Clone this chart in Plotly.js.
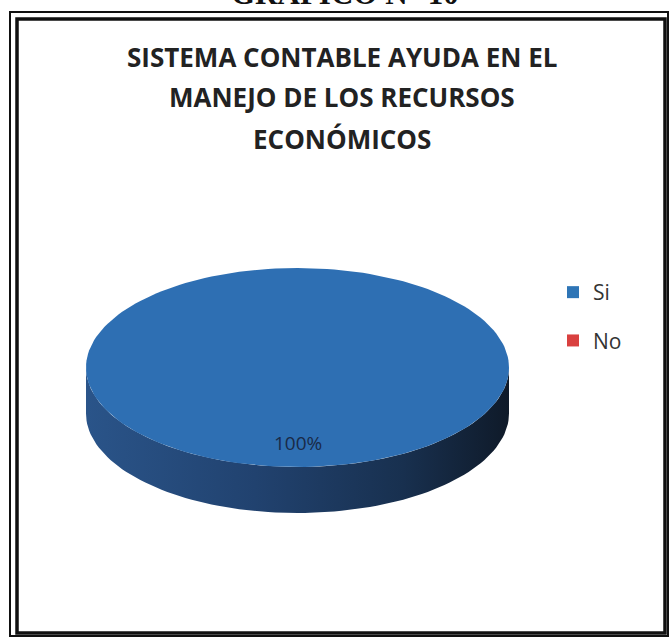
<!DOCTYPE html>
<html>
<head>
<meta charset="utf-8">
<script src="https://cdn.plot.ly/plotly-3.0.1.min.js"></script>
<style>
  html, body { margin: 0; padding: 0; background: #ffffff; }
  #chart { width: 672px; height: 638px; }
</style>
</head>
<body>
<div id="chart"></div>
<script>
// ---- data ----
const categories = ['Si', 'No'];
const percentages = [100, 0];
const sliceTopColors = ['#2e6fb3', '#c9393a'];
const legendColors = ['#2e75b6', '#d9403f'];
const titleLines = ['SISTEMA CONTABLE AYUDA EN EL', 'MANEJO DE LOS RECURSOS', 'ECONÓMICOS'];
const headerText = 'GRÁFICO N° 10';

// ---- layout / geometry (style, not data) ----
const W = 672, H = 638;
const CX = 297.5, CY = 367.5, RX = 211.5, RY = 99.5, DEPTH = 46;
const LABEL_R = 0.76;
const STEPS = 180;

function arc(t0, t1, dy) {
  const xs = [], ys = [];
  const n = Math.max(2, Math.ceil(STEPS * Math.abs(t1 - t0) / (2 * Math.PI)));
  for (let k = 0; k <= n; k++) {
    const t = t0 + (t1 - t0) * k / n;
    xs.push(CX + RX * Math.cos(t));
    ys.push(CY + RY * Math.sin(t) + dy);
  }
  return [xs, ys];
}

const total = percentages.reduce((a, b) => a + b, 0);
const wallTraces = [], topTraces = [], annotations = [];
let cum = 0;
categories.forEach((cat, i) => {
  const v = percentages[i];
  if (v <= 0) { cum += v; return; }
  const t0 = -Math.PI / 2 + 2 * Math.PI * cum / total;
  const t1 = t0 + 2 * Math.PI * v / total;
  cum += v;
  const full = v / total >= 0.99999;

  // top face
  const [ax, ay] = arc(t0, t1, 0);
  const tx = full ? ax.slice() : [CX].concat(ax, [CX]);
  const ty = full ? ay.slice() : [CY].concat(ay, [CY]);
  topTraces.push({
    type: 'scatter', mode: 'lines', x: tx, y: ty, fill: 'toself',
    fillcolor: sliceTopColors[i], line: { width: 0, color: sliceTopColors[i] },
    showlegend: false, hoverinfo: 'skip'
  });

  // visible front wall: angles in [0, PI] (mod 2PI)
  for (let k = -1; k <= 1; k++) {
    const lo = Math.max(t0, 2 * Math.PI * k), hi = Math.min(t1, 2 * Math.PI * k + Math.PI);
    if (hi > lo) {
      const [ux, uy] = arc(lo, hi, 0);
      const [bx, by] = arc(hi, lo, DEPTH);
      wallTraces.push({
        type: 'scatter', mode: 'lines',
        x: ux.concat(bx, [ux[0]]), y: uy.concat(by, [uy[0]]),
        fill: 'toself',
        fillgradient: { type: 'horizontal',
          colorscale: [[0, '#2a5489'], [0.4, '#21426f'], [0.75, '#18304f'], [1, '#0f1a29']] },
        line: { width: 0, color: '#1f3f66' },
        showlegend: false, hoverinfo: 'skip'
      });
    }
  }

  // percentage label
  const tm = (t0 + t1) / 2;
  annotations.push({
    xref: 'x', yref: 'y',
    x: CX + RX * LABEL_R * Math.cos(tm), y: CY + RY * LABEL_R * Math.sin(tm),
    text: Math.round(100 * v / total) + '%', showarrow: false,
    xanchor: 'center', yanchor: 'middle',
    font: { family: 'Open Sans', size: 19, color: '#1a2a47' }
  });
});

// legend entries
const legendTraces = categories.map((cat, i) => ({
  type: 'scatter', mode: 'markers', x: [null], y: [null], name: cat,
  legendgroup: 'g' + i,
  marker: { symbol: 'square', size: 12, color: legendColors[i] },
  hoverinfo: 'skip'
}));

// title lines
const titleCenters = [56.5, 96.5, 138.5];
titleLines.forEach((t, i) => {
  annotations.push({
    xref: 'x', yref: 'y', x: 342, y: titleCenters[i],
    text: '<b>' + t + '</b>', showarrow: false, xanchor: 'center', yanchor: 'middle',
    font: { family: 'Open Sans', size: 26, color: '#222222' }
  });
});

// header (cut off at top, as in the reference)
annotations.push({
  xref: 'x', yref: 'y', x: 345, y: 13, text: '<b>' + headerText + '</b>',
  showarrow: false, xanchor: 'center', yanchor: 'bottom',
  font: { family: 'Liberation Serif', size: 31, color: '#111111' }
});

const shapes = [
  { type: 'rect', xref: 'x', yref: 'y', x0: 10, y0: 12, x1: 668, y1: 636,
    line: { color: '#111111', width: 2 } },
  { type: 'rect', xref: 'x', yref: 'y', x0: 17, y0: 19, x1: 665, y1: 633,
    line: { color: '#111111', width: 3.5 } }
];

const layout = {
  width: W, height: H,
  margin: { l: 0, r: 0, t: 0, b: 0 },
  paper_bgcolor: '#ffffff', plot_bgcolor: '#ffffff',
  xaxis: { range: [0, W], visible: false, fixedrange: true },
  yaxis: { range: [H, 0], visible: false, fixedrange: true },
  showlegend: true,
  legend: {
    x: 553 / W, y: 1 - 272 / H, xanchor: 'left', yanchor: 'top',
    traceorder: 'grouped', tracegroupgap: 18,
    font: { family: 'Open Sans', size: 21, color: '#333333' },
    bgcolor: 'rgba(0,0,0,0)', itemwidth: 30
  },
  annotations: annotations,
  shapes: shapes
};

Plotly.newPlot('chart', wallTraces.concat(topTraces, legendTraces), layout,
  { staticPlot: true, displayModeBar: false });
</script>
</body>
</html>
